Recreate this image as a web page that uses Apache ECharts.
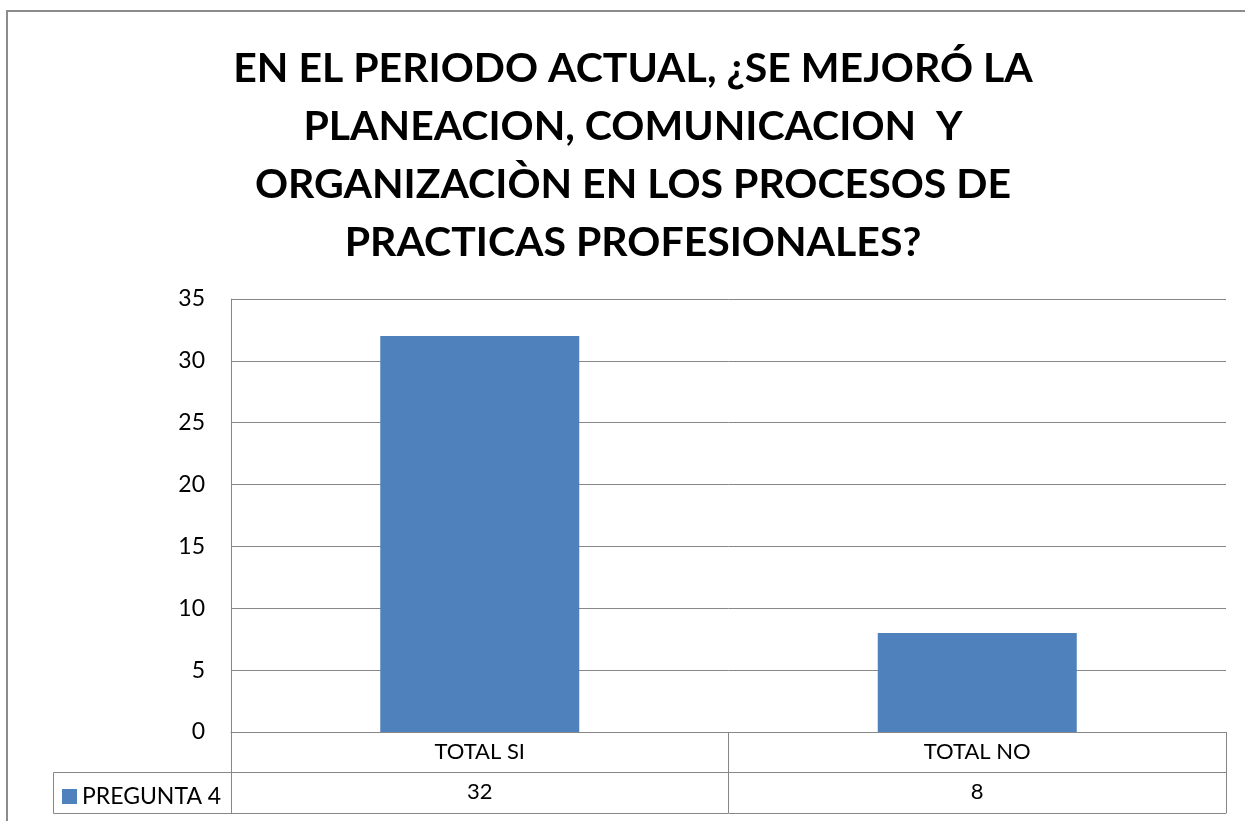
<!DOCTYPE html>
<html>
<head>
<meta charset="utf-8">
<script src="https://cdn.jsdelivr.net/npm/echarts@6/dist/echarts.min.js"></script>
<style>
  html, body { margin: 0; padding: 0; background: #fff; }
  #chart { width: 1245px; height: 821px; }
</style>
</head>
<body>
<div id="chart"></div>
<script>
// datos del grafico
const titleLines = [
  'EN EL PERIODO ACTUAL, ¿SE MEJORÓ LA',
  'PLANEACION, COMUNICACION  Y',
  'ORGANIZACIÒN EN LOS PROCESOS DE',
  'PRACTICAS PROFESIONALES?'
]
const categories = ['TOTAL SI', 'TOTAL NO']
const seriesName = 'PREGUNTA 4'
const values = [32, 8]
const yTicks = { min: 0, max: 35, interval: 5 }

// layout
const GRID_LEFT = 231
const GRID_RIGHT = 19
const GRID_TOP = 299
const GRID_BOTTOM = 89
const ROW_H = 40
const LEGEND_CELL_LEFT = 53
const lineColor = '#878787'
const barColor = '#4F81BD'
const font = 'Lato, "Open Sans", sans-serif'

const chart = echarts.init(document.getElementById('chart'))

const option = {
  animation: false,
  title: {
    text: titleLines.join('\n'),
    left: 628,
    top: 35,
    textAlign: 'center',
    textStyle: {
      fontFamily: font,
      fontWeight: 'bold',
      fontSize: 41,
      lineHeight: 58,
      color: '#000'
    }
  },
  legend: {
    data: [seriesName],
    left: LEGEND_CELL_LEFT + 9,
    top: 821 - GRID_BOTTOM + ROW_H + 13,
    itemWidth: 15,
    itemHeight: 15,
    icon: 'rect',
    padding: 0,
    textStyle: { fontFamily: font, fontSize: 23, color: '#000' }
  },
  grid: {
    left: GRID_LEFT,
    right: GRID_RIGHT,
    top: GRID_TOP,
    bottom: GRID_BOTTOM,
    containLabel: false
  },
  xAxis: [
    {
      type: 'category',
      data: categories,
      axisLine: { show: true, lineStyle: { color: lineColor, width: 1 } },
      axisTick: { show: true, length: ROW_H * 2 + 1, lineStyle: { color: lineColor } },
      axisLabel: { margin: 9, fontFamily: font, fontSize: 22, color: '#000' }
    },
    {
      type: 'category',
      data: values.map(String),
      position: 'bottom',
      offset: ROW_H,
      axisLine: { show: true, lineStyle: { color: lineColor, width: 1 } },
      axisTick: { show: false },
      axisLabel: { margin: 9, fontFamily: font, fontSize: 22, color: '#000' }
    },
    {
      type: 'category',
      data: categories,
      position: 'bottom',
      offset: ROW_H * 2 + 1,
      axisLine: { show: true, lineStyle: { color: lineColor, width: 1 } },
      axisTick: { show: false },
      axisLabel: { show: false }
    }
  ],
  yAxis: {
    type: 'value',
    min: yTicks.min,
    max: yTicks.max,
    interval: yTicks.interval,
    axisLine: { show: true, lineStyle: { color: lineColor, width: 1 } },
    axisTick: { show: false },
    splitLine: { show: true, lineStyle: { color: lineColor, width: 1 } },
    axisLabel: { margin: 26, fontFamily: font, fontSize: 23, color: '#000' }
  },
  series: [
    {
      name: seriesName,
      type: 'bar',
      xAxisIndex: 0,
      data: values,
      barWidth: '40%',
      itemStyle: { color: barColor }
    }
  ],
  graphic: [
    {
      // marco exterior del grafico
      type: 'rect',
      shape: { x: 7, y: 11, width: 1400, height: 1000 },
      style: { fill: 'none', stroke: '#8c8c8c', lineWidth: 2 },
      silent: true
    },
    {
      // celda de la leyenda en la tabla de datos
      type: 'rect',
      shape: {
        x: LEGEND_CELL_LEFT + 0.5,
        y: 821 - GRID_BOTTOM + ROW_H + 0.5,
        width: GRID_LEFT - LEGEND_CELL_LEFT,
        height: ROW_H + 1
      },
      style: { fill: 'none', stroke: lineColor, lineWidth: 1 },
      silent: true,
      z: -1
    }
  ]
}

chart.setOption(option)
</script>
</body>
</html>
